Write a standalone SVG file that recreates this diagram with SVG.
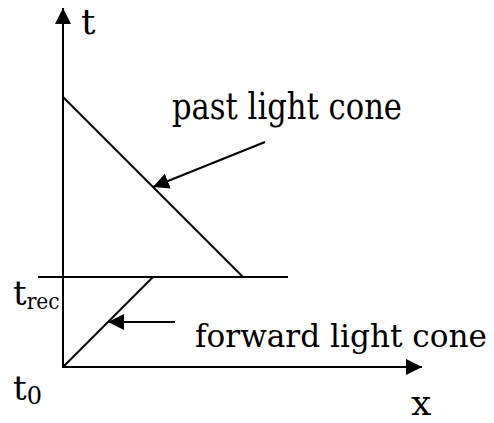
<svg xmlns="http://www.w3.org/2000/svg" width="494" height="423" viewBox="0 0 494 423">
<style>
.ln{stroke:#000;stroke-width:2;fill:none}
.tx{font-family:'DejaVu Serif','Liberation Serif',serif;fill:#000}
</style>
<defs>
<marker id="ah" markerUnits="userSpaceOnUse" markerWidth="16" markerHeight="16" viewBox="0 0 14 14" refX="14" refY="7" orient="auto">
<path d="M0,0 L14,7 L0,14 Z" fill="#000"/>
</marker>
</defs>
<rect width="494" height="423" fill="#fff"/>
<g id="connectors">
<line class="ln" x1="63" y1="368" x2="63" y2="8" marker-end="url(#ah)"/>
<line class="ln" x1="62" y1="367" x2="422" y2="367" marker-end="url(#ah)"/>
<line class="ln" x1="38" y1="277" x2="288" y2="277"/>
<line class="ln" x1="63" y1="97" x2="243" y2="277"/>
<line class="ln" x1="63" y1="367" x2="153" y2="277"/>
<line class="ln" x1="265" y1="142" x2="153" y2="187" marker-end="url(#ah)"/>
<line class="ln" x1="175" y1="322" x2="108" y2="322" marker-end="url(#ah)"/>
</g>
<g id="label-t"><text class="tx" x="81" y="34" font-size="36">t</text></g>
<g id="label-past"><text class="tx" x="172" y="119" font-size="37" textLength="230" lengthAdjust="spacingAndGlyphs">past light cone</text></g>
<g id="label-forward"><text class="tx" x="195" y="347" font-size="32" textLength="292" lengthAdjust="spacingAndGlyphs">forward light cone</text></g>
<g id="label-trec"><text class="tx" x="13" y="305" font-size="34">t<tspan font-size="23" dy="4" textLength="33" lengthAdjust="spacingAndGlyphs">rec</tspan></text></g>
<g id="label-t0"><text class="tx" x="13" y="400" font-size="34">t<tspan font-size="24" dy="4">0</tspan></text></g>
<g id="label-x"><text class="tx" x="411" y="415" font-size="36">x</text></g>
</svg>
